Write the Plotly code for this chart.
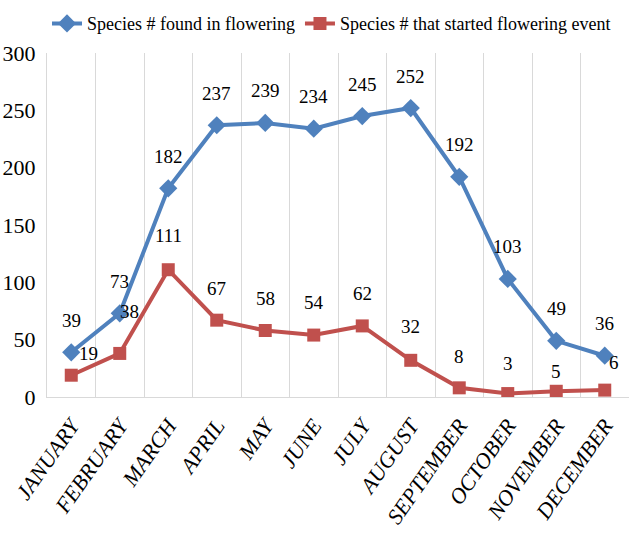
import plotly.graph_objects as go

months = ["JANUARY", "FEBRUARY", "MARCH", "APRIL", "MAY", "JUNE",
          "JULY", "AUGUST", "SEPTEMBER", "OCTOBER", "NOVEMBER", "DECEMBER"]
found_in_flowering = [39, 73, 182, 237, 239, 234, 245, 252, 192, 103, 49, 36]
started_flowering = [19, 38, 111, 67, 58, 54, 62, 32, 8, 3, 5, 6]

# label offsets (pixels) relative to each point
found_dx = [0] * 12
found_dy = [32] * 12
started_dx = [17, 10, 0, 0, 0, 0, 0, 0, 0, 0, 0, 9]
started_dy = [22, 42, 34, 32, 32, 33, 32, 34, 31, 30, 20, 28]

BLUE = "#4f81bd"
RED = "#c0504d"
SERIF = "Liberation Serif"

fig = go.Figure()
fig.add_trace(go.Scatter(
    x=months, y=found_in_flowering, mode="lines+markers",
    name="Species # found in flowering",
    line=dict(color=BLUE, width=4),
    marker=dict(symbol="diamond", size=14, color=BLUE),
))
fig.add_trace(go.Scatter(
    x=months, y=started_flowering, mode="lines+markers",
    name="Species # that started flowering event",
    line=dict(color=RED, width=4),
    marker=dict(symbol="square", size=13, color=RED),
))

annotations = []
for m, v, dx, dy in zip(months, found_in_flowering, found_dx, found_dy):
    annotations.append(dict(x=m, y=v, text=str(v), showarrow=False,
                            xshift=dx, yshift=dy,
                            font=dict(family=SERIF, size=19, color="#000")))
for m, v, dx, dy in zip(months, started_flowering, started_dx, started_dy):
    annotations.append(dict(x=m, y=v, text=str(v), showarrow=False,
                            xshift=dx, yshift=dy,
                            font=dict(family=SERIF, size=19, color="#000")))

fig.update_layout(
    width=629, height=535,
    font=dict(family=SERIF, color="#000"),
    margin=dict(l=47, r=0, t=53, b=138, autoexpand=False),
    paper_bgcolor="white", plot_bgcolor="white",
    showlegend=True,
    legend=dict(orientation="h", x=0.0, xanchor="left", y=1.085, yanchor="middle",
                font=dict(family=SERIF, size=18, color="#000"),
                tracegroupgap=0),
    annotations=annotations,
    xaxis=dict(
        type="category", tickson="boundaries", showgrid=True,
        gridcolor="#d9d9d9", gridwidth=1,
        showline=True, linecolor="#d9d9d9", linewidth=1,
        ticks="", tickangle=-55, ticklabelstandoff=6,
        tickmode="array", tickvals=months,
        ticktext=["<i>" + m + "</i>" for m in months],
        tickfont=dict(family=SERIF, size=22, color="#000"),
        range=[-0.5, 11.5],
    ),
    yaxis=dict(
        range=[0, 300], dtick=50, showgrid=False, zeroline=False,
        showline=True, linecolor="#d9d9d9", linewidth=1,
        ticks="", ticklabelstandoff=6,
        tickfont=dict(family=SERIF, size=22, color="#000"),
    ),
)

fig.write_html("out.html")
